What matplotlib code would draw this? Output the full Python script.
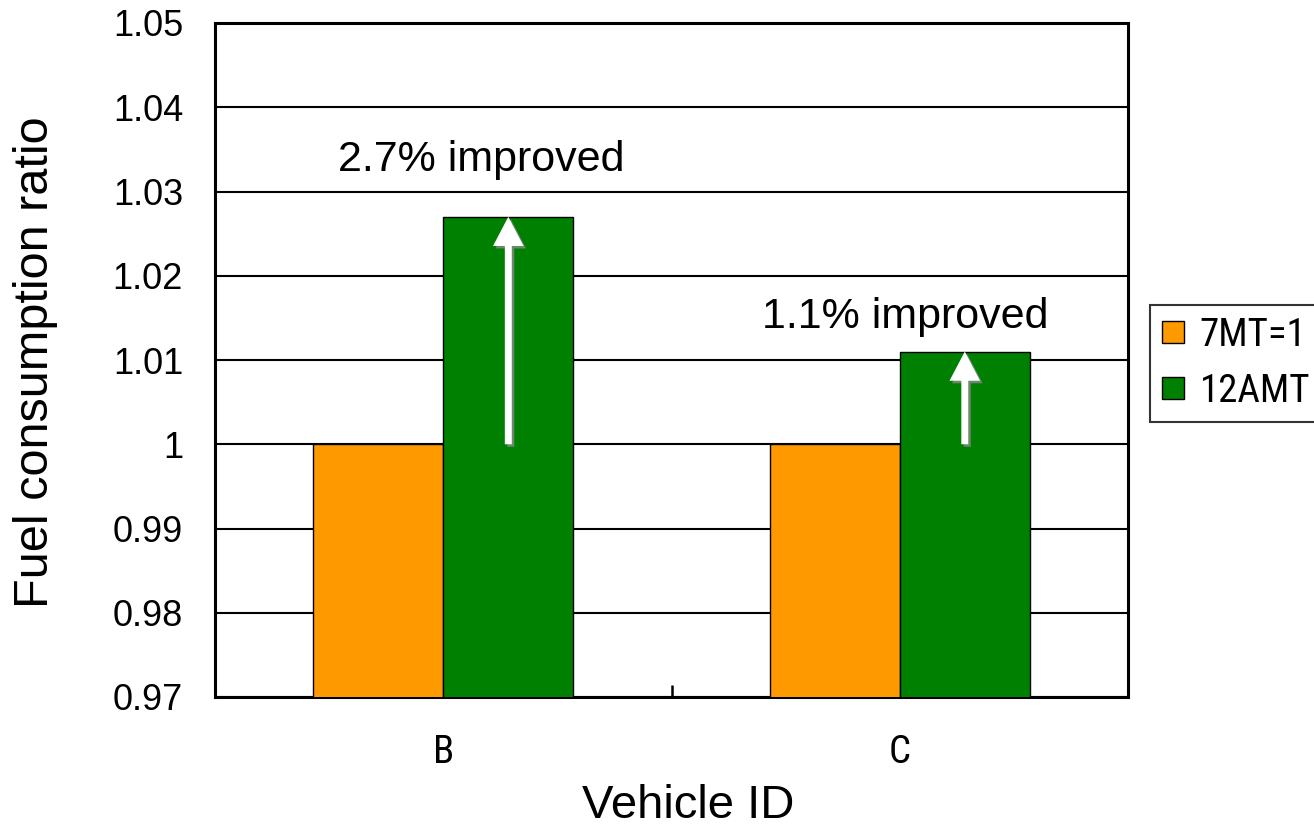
import matplotlib
matplotlib.use("Agg")
import matplotlib.pyplot as plt
from matplotlib.patches import FancyArrowPatch
import matplotlib.transforms as mtransforms
from matplotlib import font_manager
import numpy as np

# Data
vehicles = ["B", "C"]
ratio_7mt = [1.0, 1.0]
ratio_12amt = [1.027, 1.011]
series_names = ["7MT=1", "12AMT"]
improvements = ["2.7% improved", "1.1% improved"]
yticks = [0.97, 0.98, 0.99, 1.0, 1.01, 1.02, 1.03, 1.04, 1.05]
ytick_labels = ["0.97", "0.98", "0.99", "1", "1.01", "1.02", "1.03", "1.04", "1.05"]

installed = {f.name for f in font_manager.fontManager.ttflist}
narrow = next((n for n in ["Roboto Condensed", "Archivo Narrow", "Barlow Semi Condensed",
                           "Liberation Sans Narrow"] if n in installed), "Liberation Sans")
main_font = "Liberation Sans"

fig = plt.figure(figsize=(13.14, 8.26), dpi=100)
ax = fig.add_axes([215 / 1314, 129 / 826, 913 / 1314, 674 / 826])

x = np.arange(len(vehicles))
w = 0.285
ax.bar(x - w / 2, ratio_7mt, w, color="#FF9900", edgecolor="black", linewidth=1.0,
       label=series_names[0], zorder=3)
ax.bar(x + w / 2, ratio_12amt, w, color="#008000", edgecolor="black", linewidth=1.0,
       label=series_names[1], zorder=3)

ax.set_xlim(-0.5, 1.5)
ax.set_ylim(0.97, 1.05)
ax.set_yticks(yticks)
ax.set_yticklabels(ytick_labels, fontfamily=main_font, fontsize=26)
ax.tick_params(axis="y", length=0, pad=23)
ax.yaxis.grid(True, color="black", linewidth=1.5, zorder=1)
ax.set_axisbelow(True)

ax.set_xticks([0.5])
ax.set_xticklabels([""])
ax.tick_params(axis="x", direction="in", length=9, width=1.8)
xlab_tr = mtransforms.blended_transform_factory(ax.transData, ax.transAxes)
for i, v in enumerate(vehicles):
    ax.text(i, -0.083, v, transform=xlab_tr, ha="center", va="center",
            fontfamily=narrow, fontsize=28)

for s in ax.spines.values():
    s.set_linewidth(2.2)
    s.set_color("black")

fig.text(36 / 1314, 1 - 362 / 826, "Fuel consumption ratio", rotation=90,
         ha="center", va="center", fontfamily=main_font, fontsize=35)
fig.text(688 / 1314, 1 - 806 / 826, "Vehicle ID", ha="center", va="center",
         fontfamily=main_font, fontsize=34)

# Improvement arrows with drop shadow
shadow = mtransforms.offset_copy(ax.transData, fig=fig, x=2.5, y=-2.5, units="dots")
style = "simple,head_length=21,head_width=22,tail_width=5"
for i, (base, top) in enumerate(zip(ratio_7mt, ratio_12amt)):
    xc = x[i] + w / 2
    ax.add_patch(FancyArrowPatch((xc, base), (xc, top), arrowstyle=style, mutation_scale=1,
                                 color="#8a8a8a", linewidth=0, shrinkA=0, shrinkB=0,
                                 transform=shadow, zorder=4, alpha=0.8))
    ax.add_patch(FancyArrowPatch((xc, base), (xc, top), arrowstyle=style, mutation_scale=1,
                                 color="white", linewidth=0, shrinkA=0, shrinkB=0,
                                 zorder=5))

ax.text(0.083, 1.0337, improvements[0], ha="center", va="center",
        fontfamily=main_font, fontsize=31, zorder=6)
ax.text(1.013, 1.0151, improvements[1], ha="center", va="center",
        fontfamily=main_font, fontsize=31, zorder=6)

leg = ax.legend(loc="upper left", bbox_to_anchor=(1150 / 1314, 521 / 826),
                bbox_transform=fig.transFigure, frameon=True, fancybox=False,
                edgecolor="black", prop={"family": narrow, "size": 28},
                handlelength=0.58, handleheight=0.5, handletextpad=0.4,
                borderpad=0.3, labelspacing=0.5, borderaxespad=0)
leg.get_frame().set_linewidth(1.5)
for h in leg.legend_handles:
    h.set_edgecolor("black")
    h.set_linewidth(1.0)

fig.savefig("out.png", dpi=100)
